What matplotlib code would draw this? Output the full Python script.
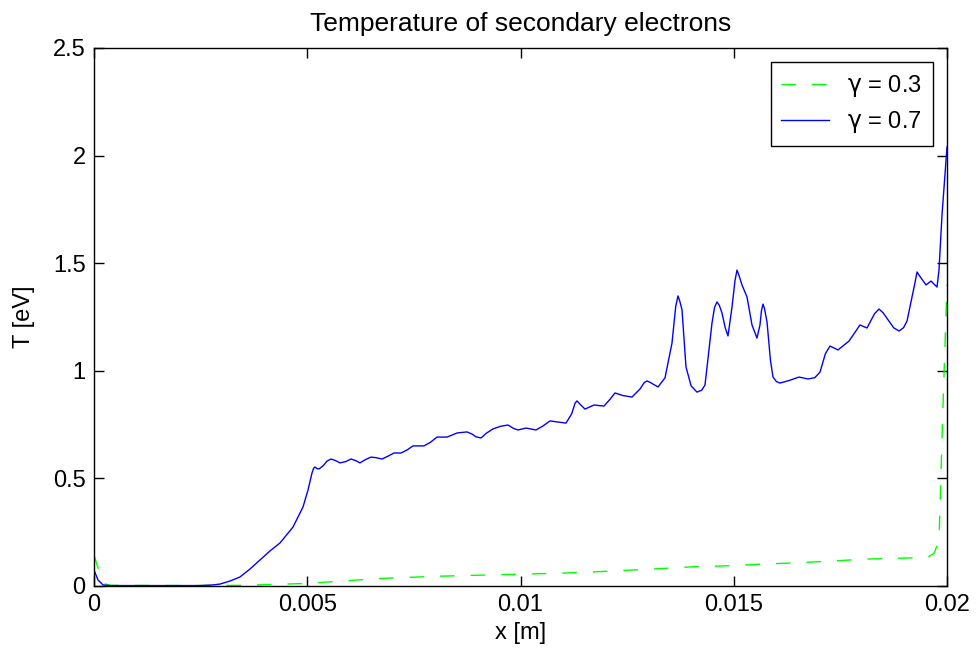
import matplotlib
matplotlib.use("Agg")
import matplotlib.pyplot as plt

plt.rcParams['font.family'] = ['Liberation Sans', 'DejaVu Sans']
plt.rcParams['mathtext.fontset'] = 'custom'
plt.rcParams['mathtext.rm'] = 'DejaVu Sans'

# gamma = 0.7 (blue, solid): x in mm, T in eV
x_07 = [0.000, 0.094, 0.211, 0.375, 1.313, 2.485, 2.790, 2.954, 3.189, 3.423,
        3.658, 3.892, 4.127, 4.361, 4.666, 4.900, 5.018, 5.111, 5.150, 5.182, 5.230, 5.275,
        5.369, 5.460, 5.557, 5.660, 5.768, 5.900, 6.026, 6.130, 6.237, 6.370, 6.495, 6.620, 6.753,
        6.890, 7.034, 7.198, 7.340, 7.479, 7.737, 7.890, 8.042, 8.277, 8.511, 8.746, 8.863,
        8.960, 9.074, 9.200, 9.355, 9.530, 9.707, 9.830, 9.941, 10.129, 10.363, 10.530,
        10.692, 11.067, 11.200, 11.280, 11.325, 11.380, 11.512, 11.723, 11.958, 12.100,
        12.216, 12.400, 12.614, 12.800, 12.900, 12.966, 13.050, 13.224, 13.388, 13.552,
        13.640, 13.693, 13.740, 13.787, 13.880, 14.000, 14.138, 14.250, 14.326, 14.490,
        14.550, 14.607, 14.660, 14.724, 14.800, 14.865, 14.959, 15.030, 15.076, 15.120,
        15.193, 15.311, 15.428, 15.545, 15.615, 15.650, 15.686, 15.720, 15.780, 15.860,
        15.920, 16.000, 16.084, 16.300, 16.530, 16.741, 16.900, 17.022, 17.150, 17.257,
        17.330, 17.444, 17.702, 17.960, 18.124, 18.300, 18.406, 18.500, 18.750, 18.875,
        18.980, 19.062, 19.240, 19.297, 19.360, 19.508, 19.625, 19.766, 19.812, 19.883,
        20.000]
T_07 = [0.074, 0.028, 0.005, 0.002, 0.002, 0.002, 0.005, 0.009, 0.023, 0.042,
        0.079, 0.121, 0.163, 0.200, 0.274, 0.367, 0.446, 0.525, 0.547, 0.553, 0.545, 0.544,
        0.558, 0.580, 0.590, 0.583, 0.572, 0.578, 0.590, 0.583, 0.572, 0.588, 0.599, 0.596, 0.590,
        0.603, 0.618, 0.618, 0.632, 0.651, 0.651, 0.668, 0.692, 0.692, 0.711, 0.716, 0.706,
        0.693, 0.688, 0.710, 0.730, 0.742, 0.748, 0.733, 0.725, 0.734, 0.725, 0.744,
        0.767, 0.757, 0.800, 0.850, 0.860, 0.848, 0.822, 0.841, 0.836, 0.868,
        0.897, 0.885, 0.878, 0.915, 0.945, 0.953, 0.945, 0.925, 0.967, 1.129,
        1.300, 1.348, 1.320, 1.283, 1.018, 0.930, 0.901, 0.910, 0.934, 1.222,
        1.295, 1.320, 1.305, 1.269, 1.200, 1.162, 1.296, 1.420, 1.468, 1.445,
        1.399, 1.343, 1.213, 1.152, 1.213, 1.280, 1.310, 1.290, 1.227, 1.050,
        0.971, 0.950, 0.943, 0.955, 0.971, 0.962, 0.968, 0.994, 1.080, 1.115,
        1.108, 1.097, 1.138, 1.213, 1.199, 1.265, 1.287, 1.270, 1.200, 1.185,
        1.200, 1.231, 1.400, 1.459, 1.440, 1.399, 1.417, 1.389, 1.468, 1.724,
        2.040]

# gamma = 0.3 (green, dashed)
x_03 = [0.000, 0.100, 0.250, 0.400, 2.000, 3.500, 5.000, 6.700, 8.000, 9.000,
        10.000, 11.000, 12.000, 12.600, 13.400, 14.100, 14.900, 15.700, 16.500, 17.300,
        18.100, 18.900, 19.550, 19.700, 19.790, 19.820, 19.900, 20.000]
T_03 = [0.144, 0.080, 0.010, 0.003, 0.002, 0.003, 0.012, 0.035, 0.045, 0.050,
        0.055, 0.060, 0.068, 0.074, 0.082, 0.090, 0.094, 0.102, 0.108, 0.116,
        0.125, 0.129, 0.133, 0.153, 0.200, 0.260, 0.800, 1.400]

labels = [r'$\mathrm{\gamma}$ = 0.3', r'$\mathrm{\gamma}$ = 0.7']
xticks = [0, 0.005, 0.01, 0.015, 0.02]
xticklabels = ['0', '0.005', '0.01', '0.015', '0.02']
yticks = [0, 0.5, 1, 1.5, 2, 2.5]
yticklabels = ['0', '0.5', '1', '1.5', '2', '2.5']

fig = plt.figure(figsize=(9.77, 6.57), dpi=100)
ax = fig.add_axes([94/977, 71/657, 853/977, 538/657])

ax.plot([v/1000 for v in x_03], T_03, color='#00ff00', lw=1.0,
        linestyle=(0, (10.5, 11.5)), label=labels[0])
ax.plot([v/1000 for v in x_07], T_07, color='#0000ff', lw=1.0, label=labels[1])

ax.set_xlim(0, 0.02)
ax.set_ylim(0, 2.5)
ax.set_xticks(xticks)
ax.set_xticklabels(xticklabels)
ax.set_yticks(yticks)
ax.set_yticklabels(yticklabels)
ax.tick_params(direction='in', length=7, width=1, top=True, right=True,
               labelsize=17, pad=6)
for s in ax.spines.values():
    s.set_linewidth(1.0)

ax.set_title('Temperature of secondary electrons', fontsize=19, pad=12)
ax.set_xlabel('x [m]', fontsize=17, labelpad=4)
ax.set_ylabel('T [eV]', fontsize=17, labelpad=13)

leg = ax.legend(loc='upper right', fontsize=17, frameon=True, fancybox=False,
                edgecolor='black', framealpha=1, borderaxespad=0.6,
                handlelength=2.0, handletextpad=0.8, borderpad=0.45,
                labelspacing=0.45)
leg.get_frame().set_linewidth(1.0)

fig.savefig('out.png', dpi=100)
